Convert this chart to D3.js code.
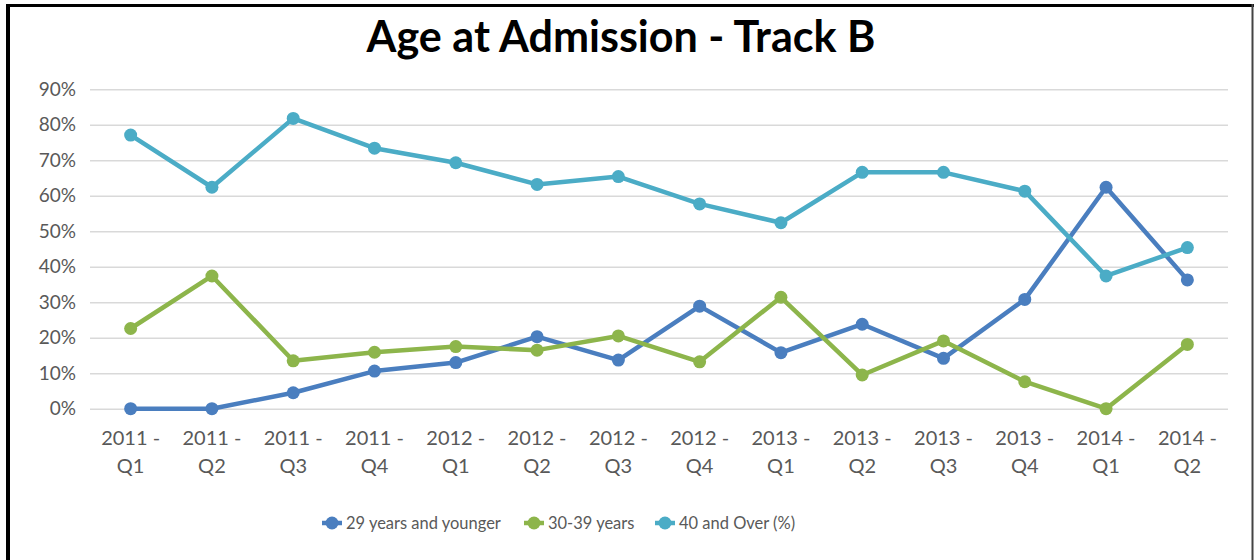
<!DOCTYPE html>
<html>
<head>
<meta charset="utf-8">
<script src="https://cdn.jsdelivr.net/npm/d3@7"></script>
<style>
  html, body { margin: 0; padding: 0; background: #fff; }
  svg { display: block; }
  text { font-family: Lato, "Open Sans", sans-serif; }
</style>
</head>
<body>
<svg id="chart" width="1255" height="560"></svg>
<script>
const title = "Age at Admission - Track B";
const yearLabels = ["2011 -","2011 -","2011 -","2011 -","2012 -","2012 -","2012 -","2012 -","2013 -","2013 -","2013 -","2013 -","2014 -","2014 -"];
const quarterLabels = ["Q1","Q2","Q3","Q4","Q1","Q2","Q3","Q4","Q1","Q2","Q3","Q4","Q1","Q2"];
const categories = yearLabels.map((y, i) => y + " " + quarterLabels[i]);
const yTicks = [0, 0.1, 0.2, 0.3, 0.4, 0.5, 0.6, 0.7, 0.8, 0.9];

const seriesNames = ["29 years and younger", "30-39 years", "40 and Over (%)"];
const under29 = [0, 0, 0.045, 0.106, 0.130, 0.203, 0.137, 0.289, 0.158, 0.238, 0.142, 0.308, 0.624, 0.363];
const age30to39 = [0.226, 0.374, 0.135, 0.159, 0.175, 0.165, 0.205, 0.132, 0.314, 0.095, 0.191, 0.076, 0.0, 0.181];
const over40 = [0.771, 0.624, 0.818, 0.734, 0.693, 0.632, 0.654, 0.577, 0.524, 0.666, 0.666, 0.613, 0.374, 0.454];
const colors = ["#4a7ebf", "#8db54b", "#4bacc6"];

const seriesData = [under29, age30to39, over40];

const svg = d3.select("#chart");

// frame
svg.append("line").attr("x1", 8).attr("x2", 8).attr("y1", 4).attr("y2", 560)
  .attr("stroke", "#000").attr("stroke-width", 4);
svg.append("line").attr("x1", 6).attr("x2", 1254).attr("y1", 5.5).attr("y2", 5.5)
  .attr("stroke", "#000").attr("stroke-width", 3);
svg.append("line").attr("x1", 1252.5).attr("x2", 1252.5).attr("y1", 4).attr("y2", 560)
  .attr("stroke", "#444").attr("stroke-width", 2);

const x = d3.scaleBand().domain(categories).range([90, 1228]).padding(0);
const y = d3.scaleLinear().domain([0, 0.9]).range([408.7, 89.3]);

// title
const t = svg.append("text").attr("x", 621).attr("y", 52)
  .attr("text-anchor", "middle").attr("font-weight", "bold")
  .attr("font-size", 40).attr("fill", "#000").text(title);
const tw = t.node().getComputedTextLength();
t.attr("font-size", 40 * 509 / tw);

// gridlines via axis
const yAxis = d3.axisLeft(y).tickValues(yTicks).tickSize(-(1228 - 90)).tickFormat(d3.format(".0%")).tickPadding(14);
const gy = svg.append("g").attr("transform", "translate(90,0)").call(yAxis);
gy.select(".domain").remove();
gy.selectAll(".tick line").attr("stroke", "#d9d9d9").attr("stroke-width", 1.5);
gy.selectAll(".tick text").attr("fill", "#595959").attr("font-size", 19)
  .attr("font-family", "Lato, 'Open Sans', sans-serif");

// x axis labels
const xAxis = d3.axisBottom(x).tickSize(0).tickFormat(() => "");
const gx = svg.append("g").attr("transform", "translate(0,408.7)").call(xAxis);
gx.select(".domain").remove();
gx.selectAll(".tick").each(function(d, i) {
  const g = d3.select(this);
  g.append("text").attr("y", 36).attr("text-anchor", "middle").attr("fill", "#595959")
    .attr("font-size", 20).text(yearLabels[i]);
  g.append("text").attr("y", 64).attr("text-anchor", "middle").attr("fill", "#595959")
    .attr("font-size", 20).text(quarterLabels[i]);
});

// lines
const line = d3.line().x((d, i) => x(categories[i]) + x.bandwidth() / 2).y(d => y(d));
seriesData.forEach((vals, s) => {
  svg.append("path").datum(vals).attr("d", line).attr("fill", "none")
    .attr("stroke", colors[s]).attr("stroke-width", 4.5).attr("stroke-linejoin", "round");
  svg.append("g").selectAll("circle").data(vals).join("circle")
    .attr("cx", (d, i) => x(categories[i]) + x.bandwidth() / 2)
    .attr("cy", d => y(d)).attr("r", 6.5).attr("fill", colors[s]);
});

// legend
const legendX = [332, 534, 665];
const legendTexts = [];
seriesNames.forEach((name, s) => {
  const g = svg.append("g").attr("transform", `translate(${legendX[s]},523)`);
  g.append("line").attr("x1", -10).attr("x2", 10).attr("stroke", colors[s]).attr("stroke-width", 4.5);
  g.append("circle").attr("r", 6.5).attr("fill", colors[s]);
  legendTexts.push(g.append("text").attr("x", 14).attr("dy", "0.35em").attr("fill", "#595959")
    .attr("font-size", 18).text(name));
});
const lw = legendTexts[0].node().getComputedTextLength();
const lfs = 18 * 155 / lw;
legendTexts.forEach(tx => tx.attr("font-size", lfs));
</script>
</body>
</html>
